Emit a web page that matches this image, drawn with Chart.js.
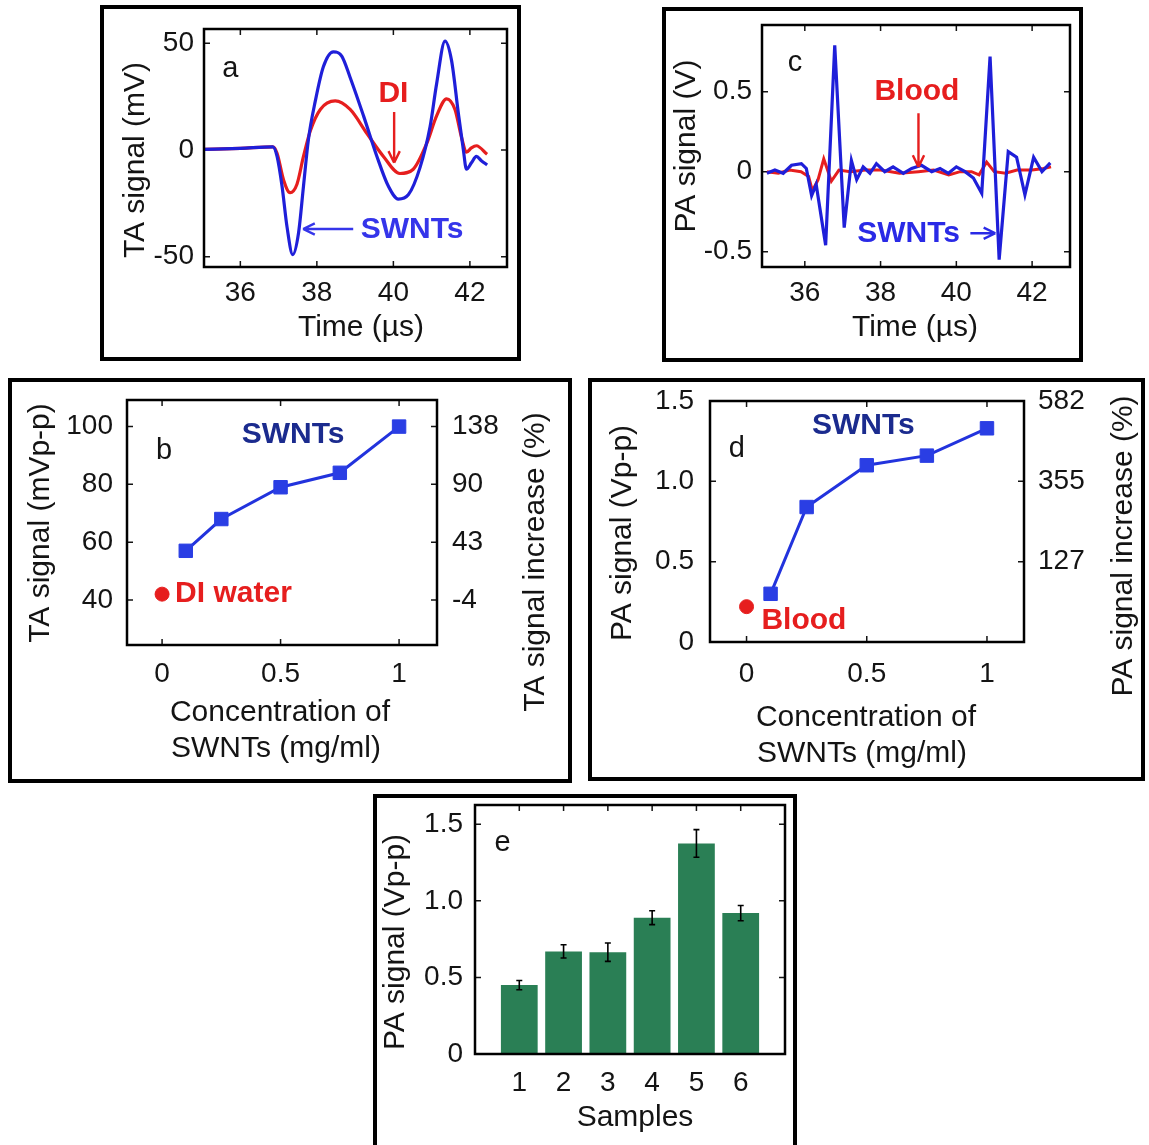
<!DOCTYPE html>
<html>
<head>
<meta charset="utf-8">
<script src="https://cdn.jsdelivr.net/npm/chart.js@4.4.1/dist/chart.umd.min.js"></script>
<style>
  html, body { margin: 0; padding: 0; background: #fff; }
  body { width: 1149px; height: 1145px; position: relative; overflow: hidden; }
  .panel { position: absolute; }
  .panel canvas { position: absolute; left: 0; top: 0; }
  .border { position: absolute; left: 0; top: 0; right: 0; bottom: 0; border: 4px solid #000; box-sizing: border-box; pointer-events: none; }
</style>
</head>
<body>
<script>
// ---------- a: TA traces (mV vs µs) ----------
const aSwntTime = [35.0, 36.0, 36.85, 36.96, 37.09, 37.22, 37.37, 37.52, 37.65, 37.78, 37.96, 38.17, 38.43, 38.65, 38.87, 39.22, 39.57, 39.87, 40.13, 40.39, 40.7, 40.96, 41.13, 41.35, 41.52, 41.7, 41.83, 41.91, 42.04, 42.17, 42.3, 42.45];
const aSwntSignal = [0.3, 0.8, 1.5, -3, -17, -36, -49, -39, -17, 5, 23, 39, 46, 44, 34, 16, -3, -17, -23, -21, -8, 11, 31, 51, 42, 17, 0, -9, -6, -3, -5, -7];
const aDiTime = [35.0, 36.0, 36.85, 36.96, 37.13, 37.3, 37.48, 37.65, 37.83, 38.09, 38.48, 38.87, 39.3, 39.74, 40.17, 40.52, 40.87, 41.13, 41.39, 41.61, 41.78, 41.91, 42.04, 42.17, 42.45];
const aDiSignal = [0.3, 0.8, 1.5, -1.5, -14, -20, -16, -3, 9, 19, 23, 19, 8, -3, -11, -9, 3, 16, 24, 19, 6, -1, 1, 2, -2];
const aTimeTicks = [36, 38, 40, 42];
const aSignalTicks = [-50, 0, 50];

// ---------- c: PA traces (V vs µs) ----------
const cSwntTime = [35.0, 35.21, 35.43, 35.65, 35.91, 36.04, 36.18, 36.3, 36.55, 36.79, 37.04, 37.23, 37.37, 37.54, 37.72, 37.89, 38.11, 38.33, 38.6, 38.82, 39.08, 39.35, 39.57, 39.79, 40.0, 40.23, 40.45, 40.67, 40.89, 41.13, 41.37, 41.59, 41.81, 42.04, 42.26, 42.48];
const cSwntSignal = [-0.01, 0.01, -0.01, 0.04, 0.05, 0.02, -0.15, -0.08, -0.46, 0.79, -0.35, 0.07, -0.05, 0.03, -0.01, 0.05, 0, 0.03, -0.01, 0.02, 0.04, 0, 0.02, -0.01, 0.03, 0, -0.04, -0.135, 0.72, -0.55, 0.125, 0.09, -0.145, 0.09, 0, 0.055];
const cBloodTime = [35.0, 35.3, 35.6, 35.9, 36.1, 36.2, 36.35, 36.5, 36.7, 36.9, 37.2, 37.6, 38.0, 38.5, 39.0, 39.4, 39.8, 40.1, 40.4, 40.6, 40.8, 41.0, 41.3, 41.6, 42.0, 42.3, 42.5];
const cBloodSignal = [0, -0.01, 0.01, 0, -0.03, -0.12, -0.05, 0.08, -0.06, 0.01, 0, 0.01, 0.01, -0.01, 0, 0.01, -0.02, 0, 0, -0.02, 0.06, 0, -0.01, 0.01, 0.01, 0.02, 0.03];
const cTimeTicks = [36, 38, 40, 42];
const cSignalTicks = [-0.5, 0, 0.5];

// ---------- b: TA signal vs concentration ----------
const bConc = [0.1, 0.25, 0.5, 0.75, 1.0];
const bSwnt = [57, 68, 79, 84, 100];
const bDiConc = [0];
const bDiWater = [42];
const bConcTicks = [0, 0.5, 1];
const bSignalTicks = [40, 60, 80, 100];
const bIncreaseLabels = ['-4', '43', '90', '138'];

// ---------- d: PA signal vs concentration ----------
const dConc = [0.1, 0.25, 0.5, 0.75, 1.0];
const dSwnt = [0.30, 0.84, 1.10, 1.16, 1.33];
const dBloodConc = [0];
const dBlood = [0.22];
const dConcTicks = [0, 0.5, 1];
const dSignalTicks = [0, 0.5, 1.0, 1.5];
const dSignalLabels = ['0', '0.5', '1.0', '1.5'];
const dIncreaseTicks = [0.5, 1.0, 1.5];
const dIncreaseLabels = ['127', '355', '582'];

// ---------- e: PA signal per sample ----------
const eSamples = [1, 2, 3, 4, 5, 6];
const eSignal = [0.45, 0.67, 0.665, 0.89, 1.375, 0.92];
const eError = [0.03, 0.043, 0.06, 0.045, 0.09, 0.05];
const eSignalTicks = [0, 0.5, 1.0, 1.5];
const eSignalLabels = ['0', '0.5', '1.0', '1.5'];

const INK = '#141414';
const BLUE = '#1f1fd9';
const RED = '#e61e1e';
const NAVY = '#1b2b8e';
const GREEN = '#2a7f55';
const FONT = "'Liberation Sans', Arial, Helvetica, sans-serif";
const TITLE_SIZE = 30;
const NOTE_SIZE = 30;

Chart.defaults.font.family = FONT;
Chart.defaults.font.size = 28;
Chart.defaults.color = INK;

// page boxes [left, top, right, bottom] of each framed panel and its axes box
const layout = {
  a: { box: [100, 5, 521, 361], frame: [204, 29, 507, 267] },
  c: { box: [662, 7, 1083, 362], frame: [762, 25, 1070, 267] },
  b: { box: [8, 378, 572, 783], frame: [127, 400, 437, 645] },
  d: { box: [588, 378, 1145, 781], frame: [710, 401, 1024, 642] },
  e: { box: [373, 794, 797, 1150], frame: [475, 805, 785, 1054] }
};

const pairs = (xs, ys) => xs.map((x, i) => ({ x, y: ys[i] }));

function mount(key) {
  const [L, T, R, B] = layout[key].box;
  const div = document.createElement('div');
  div.className = 'panel';
  Object.assign(div.style, { left: L + 'px', top: T + 'px', width: (R - L) + 'px', height: (B - T) + 'px' });
  const canvas = document.createElement('canvas');
  canvas.width = R - L;
  canvas.height = B - T;
  const border = document.createElement('div');
  border.className = 'border';
  div.append(canvas, border);
  document.body.append(div);
  return canvas;
}

// MATLAB-like box: inward ticks under the data, frame on top
const axesBox = {
  id: 'axesBox',
  beforeDatasetsDraw(chart) {
    const { ctx, chartArea: a, scales } = chart;
    const len = 6;
    ctx.save();
    ctx.strokeStyle = INK;
    ctx.lineWidth = 1.5;
    ctx.beginPath();
    for (const s of Object.values(scales)) {
      for (const t of s.ticks) {
        const p = s.getPixelForValue(t.value);
        if (s.isHorizontal()) {
          ctx.moveTo(p, a.bottom); ctx.lineTo(p, a.bottom - len);
          ctx.moveTo(p, a.top); ctx.lineTo(p, a.top + len);
        } else {
          if (s.position === 'left') { ctx.moveTo(a.left, p); ctx.lineTo(a.left + len, p); }
          if (s.position === 'right' || !scales.y2) { ctx.moveTo(a.right, p); ctx.lineTo(a.right - len, p); }
        }
      }
    }
    ctx.stroke();
    ctx.restore();
  },
  afterDatasetsDraw(chart) {
    const { ctx, chartArea: a } = chart;
    ctx.save();
    ctx.strokeStyle = '#000';
    ctx.lineWidth = 2.5;
    ctx.strokeRect(a.left, a.top, a.right - a.left, a.bottom - a.top);
    ctx.restore();
  }
};

// error bars for the bar panel
const errorBars = {
  id: 'errorBars',
  afterDatasetsDraw(chart, args, opts) {
    if (!opts || !opts.errors) return;
    const { ctx } = chart;
    const y = chart.scales.y;
    const meta = chart.getDatasetMeta(0);
    const values = chart.data.datasets[0].data;
    ctx.save();
    ctx.strokeStyle = '#000';
    ctx.lineWidth = 1.6;
    ctx.beginPath();
    meta.data.forEach((bar, i) => {
      const v = values[i].y, e = opts.errors[i];
      const top = y.getPixelForValue(v + e), bot = y.getPixelForValue(v - e);
      ctx.moveTo(bar.x, top); ctx.lineTo(bar.x, bot);
      ctx.moveTo(bar.x - 3, top); ctx.lineTo(bar.x + 3, top);
      ctx.moveTo(bar.x - 3, bot); ctx.lineTo(bar.x + 3, bot);
    });
    ctx.stroke();
    ctx.restore();
  }
};

// in-plot labels and arrows, placed in data units
const notes = {
  id: 'notes',
  afterDraw(chart, args, opts) {
    if (!opts || !opts.items) return;
    const { ctx, scales } = chart;
    ctx.save();
    for (const n of opts.items) {
      const x = scales.x.getPixelForValue(n.x), y = scales.y.getPixelForValue(n.y);
      if (n.text) {
        ctx.font = `${n.bold ? 'bold ' : ''}${n.size || 29}px ${FONT}`;
        ctx.fillStyle = n.color || INK;
        ctx.textAlign = n.align || 'center';
        ctx.textBaseline = 'middle';
        ctx.fillText(n.text, x, y);
      } else {
        const x2 = scales.x.getPixelForValue(n.x2), y2 = scales.y.getPixelForValue(n.y2);
        const ang = Math.atan2(y2 - y, x2 - x);
        ctx.strokeStyle = n.color;
        ctx.lineWidth = 2.4;
        ctx.beginPath();
        ctx.moveTo(x, y); ctx.lineTo(x2, y2);
        for (const s of [-1, 1]) {
          ctx.moveTo(x2, y2);
          ctx.lineTo(x2 - 13 * Math.cos(ang + s * 0.45), y2 - 13 * Math.sin(ang + s * 0.45));
        }
        ctx.stroke();
      }
    }
    ctx.restore();
  }
};

// axis titles, given in page coordinates
const titles = {
  id: 'titles',
  afterDraw(chart, args, opts) {
    if (!opts || !opts.items) return;
    const { ctx } = chart;
    const [L, T] = opts.origin;
    ctx.save();
    ctx.font = `${TITLE_SIZE}px ${FONT}`;
    ctx.fillStyle = INK;
    ctx.textAlign = 'center';
    ctx.textBaseline = 'middle';
    for (const t of opts.items) {
      ctx.save();
      ctx.translate(t.x - L, t.y - T);
      if (t.rot) ctx.rotate(-Math.PI / 2);
      ctx.fillText(t.text, 0, 0);
      ctx.restore();
    }
    ctx.restore();
  }
};

Chart.register(axesBox, errorBars, notes, titles);

function axisOptions(key, ax) {
  const [L, T, R, B] = layout[key].box;
  const [fl, ft, fr, fb] = layout[key].frame;
  const plain = { grid: { display: false, drawTicks: false }, border: { display: false } };
  const scales = {
    x: {
      ...plain, type: 'linear', position: 'bottom', offset: false, min: ax.x.min, max: ax.x.max,
      ticks: { padding: ax.x.pad, autoSkip: false, maxRotation: 0, callback: (v, i) => ax.x.labels[i] },
      afterBuildTicks: s => { s.ticks = ax.x.ticks.map(v => ({ value: v })); },
      afterFit: s => { s.height = B - fb; s.paddingLeft = 0; s.paddingRight = 0; }
    },
    y: {
      ...plain, type: 'linear', position: 'left', min: ax.y.min, max: ax.y.max,
      ticks: { padding: ax.y.pad, autoSkip: false, callback: (v, i) => ax.y.labels[i] },
      afterBuildTicks: s => { s.ticks = ax.y.ticks.map(v => ({ value: v })); },
      afterFit: s => { s.width = fl - L; s.paddingTop = 0; s.paddingBottom = 0; }
    }
  };
  if (ax.y2) {
    scales.y2 = {
      ...plain, type: 'linear', position: 'right', min: ax.y.min, max: ax.y.max,
      ticks: { padding: ax.y2.pad, autoSkip: false, callback: (v, i) => ax.y2.labels[i] },
      afterBuildTicks: s => { s.ticks = ax.y2.ticks.map(v => ({ value: v })); },
      afterFit: s => { s.width = R - fr; s.paddingTop = 0; s.paddingBottom = 0; }
    };
  }
  return {
    responsive: false,
    animation: false,
    events: [],
    layout: { padding: { left: 0, top: ft - T, right: ax.y2 ? 0 : R - fr, bottom: 0 } },
    plugins: {
      legend: { display: false },
      tooltip: { enabled: false },
      titles: { origin: [L, T], items: ax.titles },
      notes: { items: ax.notes || [] }
    },
    scales
  };
}

// ---------- panel a ----------
new Chart(mount('a'), {
  type: 'line',
  data: {
    datasets: [
      { label: 'SWNTs', data: pairs(aSwntTime, aSwntSignal), borderColor: BLUE, borderWidth: 3.2, pointRadius: 0, cubicInterpolationMode: 'monotone' },
      { label: 'DI', data: pairs(aDiTime, aDiSignal), borderColor: RED, borderWidth: 3.2, pointRadius: 0, cubicInterpolationMode: 'monotone' }
    ]
  },
  options: axisOptions('a', {
    x: { min: 35.05, max: 42.97, ticks: aTimeTicks, labels: aTimeTicks.map(String), pad: 9 },
    y: { min: -54.8, max: 56.7, ticks: aSignalTicks, labels: aSignalTicks.map(String), pad: 10 },
    titles: [
      { text: 'TA signal (mV)', x: 136, y: 160, rot: true },
      { text: 'Time (µs)', x: 361, y: 328 }
    ],
    notes: [
      { text: 'a', x: 35.74, y: 38 },
      { text: 'DI', x: 40.0, y: 26.6, bold: true, color: RED, size: NOTE_SIZE },
      { x: 40.02, y: 17.8, x2: 40.02, y2: -6, color: RED },
      { text: 'SWNTs', x: 40.49, y: -37.4, bold: true, color: '#3535ea', size: NOTE_SIZE },
      { x: 38.95, y: -37, x2: 37.64, y2: -37, color: '#3535ea' }
    ]
  })
});

// ---------- panel c ----------
new Chart(mount('c'), {
  type: 'line',
  data: {
    datasets: [
      { label: 'SWNTs', data: pairs(cSwntTime, cSwntSignal), borderColor: BLUE, borderWidth: 3.2, pointRadius: 0, tension: 0 },
      { label: 'Blood', data: pairs(cBloodTime, cBloodSignal), borderColor: RED, borderWidth: 3, pointRadius: 0, tension: 0 }
    ]
  },
  options: axisOptions('c', {
    x: { min: 34.87, max: 43.0, ticks: cTimeTicks, labels: cTimeTicks.map(String), pad: 9 },
    y: { min: -0.596, max: 0.917, ticks: cSignalTicks, labels: cSignalTicks.map(String), pad: 10 },
    titles: [
      { text: 'PA signal (V)', x: 687, y: 146, rot: true },
      { text: 'Time (µs)', x: 915, y: 328 }
    ],
    notes: [
      { text: 'c', x: 35.74, y: 0.68 },
      { text: 'Blood', x: 38.96, y: 0.5, bold: true, color: RED, size: NOTE_SIZE },
      { x: 39.0, y: 0.365, x2: 39.0, y2: 0.03, color: RED },
      { text: 'SWNTs', x: 38.74, y: -0.385, bold: true, color: '#2a2ae6', size: NOTE_SIZE },
      { x: 40.37, y: -0.385, x2: 41.03, y2: -0.385, color: '#2a2ae6' }
    ]
  })
});

// ---------- panel b ----------
new Chart(mount('b'), {
  type: 'scatter',
  data: {
    datasets: [
      { label: 'SWNTs', data: pairs(bConc, bSwnt), showLine: true, borderColor: '#2233dd', borderWidth: 3, pointStyle: 'rect', pointRadius: 9.5, pointBackgroundColor: '#2a3ee4', pointBorderColor: '#2a3ee4', pointBorderWidth: 1 },
      { label: 'DI water', data: pairs(bDiConc, bDiWater), pointStyle: 'circle', pointRadius: 7, pointBackgroundColor: RED, pointBorderColor: RED }
    ]
  },
  options: axisOptions('b', {
    x: { min: -0.148, max: 1.16, ticks: bConcTicks, labels: bConcTicks.map(String), pad: 12 },
    y: { min: 24.4, max: 109.2, ticks: bSignalTicks, labels: bSignalTicks.map(String), pad: 14 },
    y2: { ticks: bSignalTicks, labels: bIncreaseLabels, pad: 15 },
    titles: [
      { text: 'TA signal (mVp-p)', x: 41, y: 523, rot: true },
      { text: 'TA signal increase (%)', x: 536, y: 562, rot: true },
      { text: 'Concentration of', x: 280, y: 713 },
      { text: 'SWNTs (mg/ml)', x: 276, y: 749 }
    ],
    notes: [
      { text: 'b', x: 0.008, y: 91.4 },
      { text: 'SWNTs', x: 0.553, y: 97.1, bold: true, color: NAVY, size: NOTE_SIZE },
      { text: 'DI water', x: 0.055, y: 42.1, bold: true, color: RED, size: NOTE_SIZE, align: 'left' }
    ]
  })
});

// ---------- panel d ----------
new Chart(mount('d'), {
  type: 'scatter',
  data: {
    datasets: [
      { label: 'SWNTs', data: pairs(dConc, dSwnt), showLine: true, borderColor: '#2233dd', borderWidth: 3, pointStyle: 'rect', pointRadius: 9.5, pointBackgroundColor: '#2a3ee4', pointBorderColor: '#2a3ee4', pointBorderWidth: 1 },
      { label: 'Blood', data: pairs(dBloodConc, dBlood), pointStyle: 'circle', pointRadius: 7, pointBackgroundColor: RED, pointBorderColor: RED }
    ]
  },
  options: axisOptions('d', {
    x: { min: -0.152, max: 1.154, ticks: dConcTicks, labels: dConcTicks.map(String), pad: 15 },
    y: { min: 0, max: 1.5, ticks: dSignalTicks, labels: dSignalLabels, pad: 16 },
    y2: { ticks: dIncreaseTicks, labels: dIncreaseLabels, pad: 14 },
    titles: [
      { text: 'PA signal (Vp-p)', x: 623, y: 533, rot: true },
      { text: 'PA signal increase (%)', x: 1124, y: 546, rot: true },
      { text: 'Concentration of', x: 866, y: 718 },
      { text: 'SWNTs (mg/ml)', x: 862, y: 754 }
    ],
    notes: [
      { text: 'd', x: -0.04, y: 1.2 },
      { text: 'SWNTs', x: 0.486, y: 1.344, bold: true, color: NAVY, size: NOTE_SIZE },
      { text: 'Blood', x: 0.062, y: 0.135, bold: true, color: RED, size: NOTE_SIZE, align: 'left' }
    ]
  })
});

// ---------- panel e ----------
new Chart(mount('e'), {
  type: 'bar',
  data: {
    datasets: [
      { label: 'PA signal', data: pairs(eSamples, eSignal), backgroundColor: GREEN, borderWidth: 0, categoryPercentage: 1, barPercentage: 0.83 }
    ]
  },
  options: (() => {
    const o = axisOptions('e', {
      x: { min: 0, max: 7, ticks: eSamples, labels: eSamples.map(String), pad: 12 },
      y: { min: 0, max: 1.626, ticks: eSignalTicks, labels: eSignalLabels, pad: 12 },
      titles: [
        { text: 'PA signal (Vp-p)', x: 396, y: 942, rot: true },
        { text: 'Samples', x: 635, y: 1118 }
      ],
      notes: [{ text: 'e', x: 0.62, y: 1.376 }]
    });
    o.plugins.errorBars = { errors: eError };
    return o;
  })()
});
</script>
</body>
</html>
